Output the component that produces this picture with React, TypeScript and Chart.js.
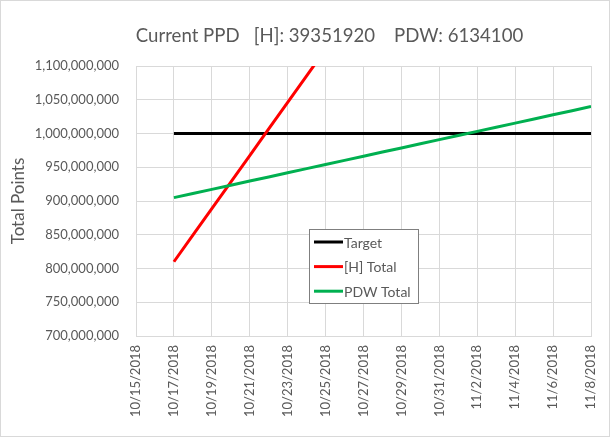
import React, { useEffect, useRef } from "react";
import { Chart, registerables } from "chart.js";

Chart.register(...registerables);

// tick labels on the x axis, one per day
const dayLabels = [
  "10/15/2018", "10/16/2018", "10/17/2018", "10/18/2018", "10/19/2018",
  "10/20/2018", "10/21/2018", "10/22/2018", "10/23/2018", "10/24/2018",
  "10/25/2018", "10/26/2018", "10/27/2018", "10/28/2018", "10/29/2018",
  "10/30/2018", "10/31/2018", "11/1/2018", "11/2/2018", "11/3/2018",
  "11/4/2018", "11/5/2018", "11/6/2018", "11/7/2018", "11/8/2018",
];

const firstDay = "10/17/2018";

const seriesNames = ["Target", "[H] Total", "PDW Total"];

const targetValues = [
  1000000000, 1000000000, 1000000000, 1000000000, 1000000000, 1000000000,
  1000000000, 1000000000, 1000000000, 1000000000, 1000000000, 1000000000,
  1000000000, 1000000000, 1000000000, 1000000000, 1000000000, 1000000000,
  1000000000, 1000000000, 1000000000, 1000000000, 1000000000,
];

const hValues = [
  810000000, 849350000, 888700000, 928050000, 967400000, 1006750000,
  1046100000, 1085450000, 1124800000,
];

const pdwValues = [
  905000000, 911130000, 917270000, 923400000, 929540000, 935670000,
  941800000, 947940000, 954070000, 960210000, 966340000, 972480000,
  978610000, 984740000, 990880000, 997010000, 1003150000, 1009280000,
  1015410000, 1021550000, 1027680000, 1033820000, 1039950000,
];

const seriesColors = ["#000000", "#ff0000", "#00b050"];

const titleText = "Current PPD   [H]: 39351920    PDW: 6134100";

const textColor = "#595959";
const gridColor = "#d9d9d9";

const toPoints = (values: number[]) => {
  const start = dayLabels.indexOf(firstDay);
  return values.map((v, i) => ({ x: start + i, y: v }));
};

const decorations = {
  id: "decorations",
  beforeDraw(chart: any) {
    const { ctx, width, height } = chart;
    ctx.save();
    ctx.fillStyle = "#ffffff";
    ctx.fillRect(0, 0, width, height);
    ctx.restore();
  },
  afterDraw(chart: any) {
    const { ctx, width, height } = chart;
    ctx.save();
    ctx.strokeStyle = gridColor;
    ctx.lineWidth = 1;
    ctx.strokeRect(0.5, 0.5, width - 1, height - 1);

    // title
    ctx.fillStyle = textColor;
    ctx.font = "18.6px Lato";
    ctx.textAlign = "center";
    ctx.textBaseline = "middle";
    ctx.fillText(titleText, 329.5, 36);

    // legend box inside the plot
    const box = { x: 309.5, y: 229.5, w: 109, h: 74 };
    ctx.fillStyle = "#ffffff";
    ctx.fillRect(box.x, box.y, box.w, box.h);
    ctx.strokeStyle = "#7f7f7f";
    ctx.strokeRect(box.x, box.y, box.w, box.h);
    ctx.font = "14px Lato";
    ctx.textAlign = "left";
    chart.data.datasets.forEach((ds: any, i: number) => {
      const y = 242 + i * 24.6;
      ctx.strokeStyle = ds.borderColor;
      ctx.lineWidth = 3;
      ctx.beginPath();
      ctx.moveTo(314, y);
      ctx.lineTo(343, y);
      ctx.stroke();
      ctx.fillStyle = textColor;
      ctx.fillText(ds.label, 344, y + 1);
    });
    ctx.restore();
  },
};

const App = () => {
  const chartRef = useRef<HTMLCanvasElement>(null);

  useEffect(() => {
    const ctx = chartRef.current!.getContext("2d")!;
    Chart.defaults.font.family = "Lato";
    const myChart = new Chart(ctx, {
      type: "line",
      data: {
        datasets: [targetValues, hValues, pdwValues].map((values, i) => ({
          label: seriesNames[i],
          data: toPoints(values),
          borderColor: seriesColors[i],
          backgroundColor: seriesColors[i],
          borderWidth: 3,
          pointRadius: 0,
          tension: 0,
          order: 3 - i,
        })),
      },
      options: {
        animation: false,
        responsive: false,
        layout: { padding: { left: 8, right: 19, top: 66, bottom: 1 } },
        plugins: {
          legend: { display: false },
          tooltip: { enabled: false },
          title: { display: false },
        },
        scales: {
          x: {
            type: "linear",
            min: 0,
            max: dayLabels.length - 1,
            afterFit: (s: any) => {
              s.height = 100;
              s.paddingLeft = 0;
              s.paddingRight = 0;
            },
            grid: { color: gridColor, drawTicks: false },
            border: { color: gridColor },
            ticks: {
              stepSize: 2,
              autoSkip: false,
              maxRotation: 90,
              minRotation: 90,
              padding: 9,
              color: textColor,
              font: { size: 13 },
              callback: (v: any) => dayLabels[v],
            },
          },
          y: {
            min: 700000000,
            max: 1100000000,
            afterFit: (s: any) => {
              s.width = 128;
              s.paddingTop = 0;
              s.paddingBottom = 0;
            },
            grid: { color: gridColor, drawTicks: false },
            border: { color: gridColor },
            title: {
              display: true,
              text: "Total Points",
              color: textColor,
              font: { size: 17 },
              padding: { top: 0, bottom: 0 },
            },
            ticks: {
              stepSize: 50000000,
              padding: 17,
              color: textColor,
              font: { size: 13 },
              callback: (v: any) => Number(v).toLocaleString("en-US"),
            },
          },
        },
      },
      plugins: [decorations],
    });

    return () => {
      myChart.destroy();
    };
  }, []);

  return (
    <div style={{ position: "absolute", left: 0, top: 0 }}>
      <canvas ref={chartRef} width="610" height="437"></canvas>
    </div>
  );
};

export default App;
